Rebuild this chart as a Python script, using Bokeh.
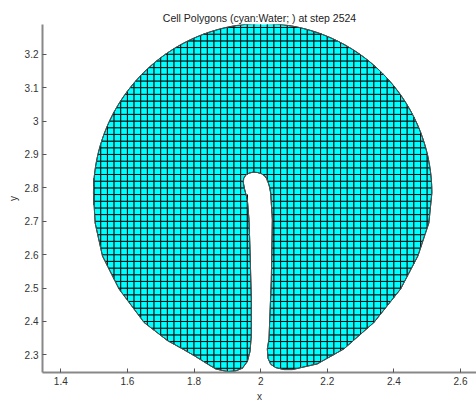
import numpy as np
from bokeh.plotting import figure
from bokeh.models import Range1d, FixedTicker
from bokeh.embed import file_html
from bokeh.resources import INLINE

# ---- data ----
title_text = "Cell Polygons (cyan:Water; ) at step 2524"
cell_size = 0.02
circle_center = (2.006, 2.784)
circle_radius = 0.508
# lower part of the outline (left side going down, slot, right side going up)
lower_x = [1.503, 1.525, 1.575, 1.650, 1.720, 1.765, 1.800, 1.840, 1.865, 1.900,
           1.925, 1.945, 1.960, 1.968, 1.972, 1.972, 1.968, 1.965, 1.960, 1.952,
           1.948, 1.949, 1.955, 1.965, 1.977, 1.990, 2.003, 2.013, 2.020, 2.026,
           2.030, 2.035, 2.032, 2.025, 2.020, 2.022, 2.030, 2.045, 2.070, 2.095,
           2.170, 2.250, 2.340, 2.420, 2.472, 2.505]
lower_y = [2.695, 2.596, 2.497, 2.397, 2.343, 2.318, 2.298, 2.273, 2.258, 2.250,
           2.252, 2.260, 2.280, 2.310, 2.357, 2.467, 2.616, 2.705, 2.765, 2.795,
           2.815, 2.828, 2.838, 2.844, 2.847, 2.846, 2.842, 2.835, 2.824, 2.805,
           2.785, 2.705, 2.526, 2.348, 2.318, 2.290, 2.272, 2.262, 2.256, 2.256,
           2.273, 2.318, 2.397, 2.497, 2.596, 2.695]
x_ticks = [1.4, 1.6, 1.8, 2.0, 2.2, 2.4, 2.6]
x_tick_labels = ["1.4", "1.6", "1.8", "2", "2.2", "2.4", "2.6"]
y_ticks = [2.3, 2.4, 2.5, 2.6, 2.7, 2.8, 2.9, 3.0, 3.1, 3.2]
y_tick_labels = ["2.3", "2.4", "2.5", "2.6", "2.7", "2.8", "2.9", "3", "3.1", "3.2"]

# ---- outline polygon: upper circular arc + lower traced points ----
theta = np.linspace(0.0, np.pi, 140)
ox = list(circle_center[0] + circle_radius * np.cos(theta)) + lower_x
oy = list(circle_center[1] + circle_radius * np.sin(theta)) + lower_y
outline = list(zip(ox, oy))


def clip_edge(poly, inside, intersect):
    out = []
    if not poly:
        return out
    prev = poly[-1]
    for cur in poly:
        if inside(cur):
            if not inside(prev):
                out.append(intersect(prev, cur))
            out.append(cur)
        elif inside(prev):
            out.append(intersect(prev, cur))
        prev = cur
    return out


def ix_x(xc):
    def f(a, b):
        t = (xc - a[0]) / (b[0] - a[0])
        return (xc, a[1] + t * (b[1] - a[1]))
    return f


def ix_y(yc):
    def f(a, b):
        t = (yc - a[1]) / (b[1] - a[1])
        return (a[0] + t * (b[0] - a[0]), yc)
    return f


def clip_rect(poly, x0, x1, y0, y1):
    poly = clip_edge(poly, lambda p: p[0] >= x0, ix_x(x0))
    poly = clip_edge(poly, lambda p: p[0] <= x1, ix_x(x1))
    poly = clip_edge(poly, lambda p: p[1] >= y0, ix_y(y0))
    poly = clip_edge(poly, lambda p: p[1] <= y1, ix_y(y1))
    return poly


def area(poly):
    a = 0.0
    for i in range(len(poly)):
        x1, y1 = poly[i]
        x2, y2 = poly[(i + 1) % len(poly)]
        a += x1 * y2 - x2 * y1
    return abs(a) / 2


xmin, xmax = min(ox), max(ox)
ymin, ymax = min(oy), max(oy)
i0 = int(np.floor(xmin / cell_size)); i1 = int(np.ceil(xmax / cell_size))
j0 = int(np.floor(ymin / cell_size)); j1 = int(np.ceil(ymax / cell_size))
cxs, cys = [], []
for i in range(i0, i1):
    for j in range(j0, j1):
        x0c, x1c = i * cell_size, (i + 1) * cell_size
        y0c, y1c = j * cell_size, (j + 1) * cell_size
        pc = clip_rect(outline, x0c, x1c, y0c, y1c)
        if len(pc) >= 3 and area(pc) > 1e-8:
            cxs.append([q[0] for q in pc])
            cys.append([q[1] for q in pc])

p = figure(width=476, height=404, output_backend="svg", toolbar_location=None,
           x_range=Range1d(1.345, 2.648), y_range=Range1d(2.2473, 3.289),
           min_border_left=42, min_border_right=0, min_border_top=24,
           min_border_bottom=31, title=title_text)
p.title.text_font = "Liberation Sans"
p.title.text_font_size = "10.5px"
p.title.text_font_style = "normal"
p.title.text_color = "#222222"
p.title.align = "center"
p.title.vertical_align = "middle"
p.title.standoff = 0
p.title.offset = 3
p.outline_line_color = None
p.grid.visible = False
p.background_fill_color = "white"
p.border_fill_color = "white"

p.patches(cxs, cys, fill_color="#00FFFF", line_color="black", line_width=0.9)
p.patch(ox, oy, fill_color=None, line_color="#555555", line_width=1.0)

p.xaxis.ticker = FixedTicker(ticks=x_ticks)
p.yaxis.ticker = FixedTicker(ticks=y_ticks)
p.xaxis.major_label_overrides = dict(zip(x_ticks, x_tick_labels))
p.yaxis.major_label_overrides = dict(zip(y_ticks, y_tick_labels))
p.xaxis.axis_label = "x"
p.yaxis.axis_label = "y"
for ax in (p.xaxis[0], p.yaxis[0]):
    ax.axis_line_color = "#888888"
    ax.axis_line_width = 2
    ax.major_tick_line_color = "#555555"
    ax.major_tick_in = 4
    ax.major_tick_out = 0
    ax.minor_tick_line_color = None
    ax.major_label_text_font = "Liberation Sans"
    ax.major_label_text_font_size = "10px"
    ax.major_label_text_color = "#333333"
    ax.axis_label_text_font = "Liberation Sans"
    ax.axis_label_text_font_size = "10px"
    ax.axis_label_text_font_style = "normal"
    ax.axis_label_text_color = "#333333"
    ax.major_label_standoff = 4
    ax.axis_label_standoff = 3

open("out.html", "w").write(file_html(p, INLINE))
